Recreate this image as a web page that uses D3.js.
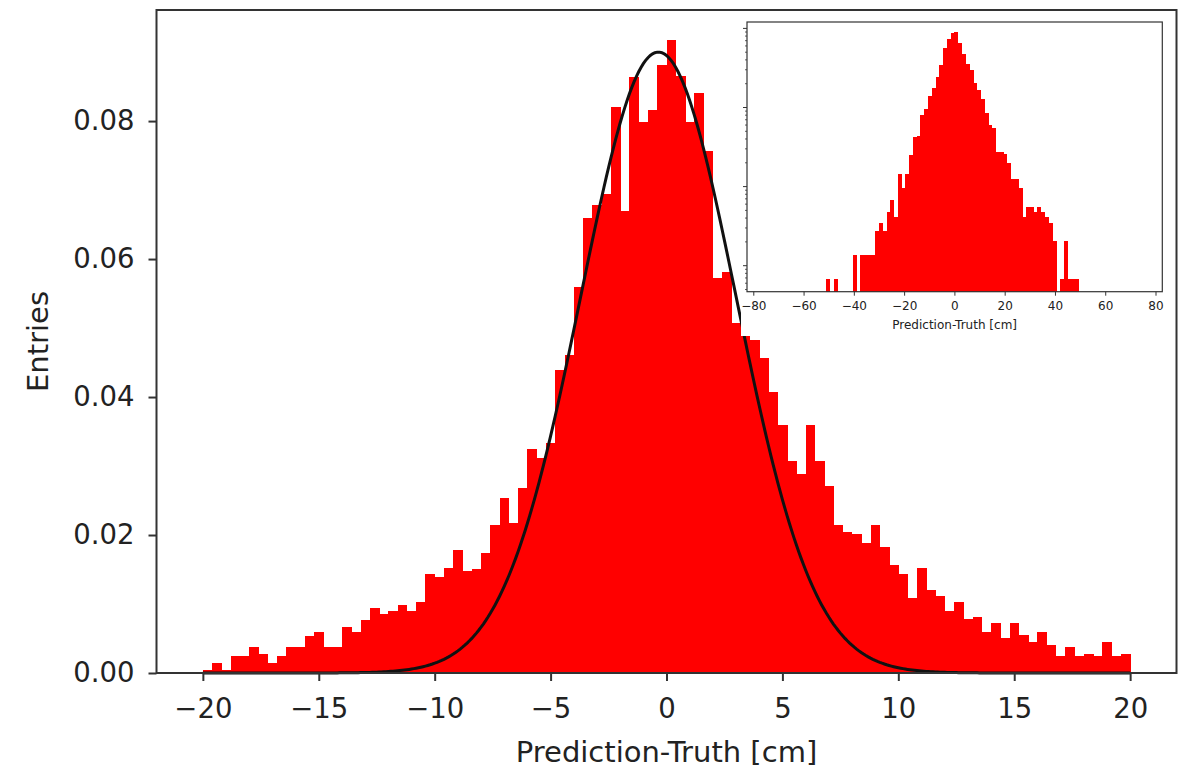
<!DOCTYPE html>
<html>
<head>
<meta charset="utf-8">
<script src="https://cdn.jsdelivr.net/npm/d3@7"></script>
<style>
  body { margin: 0; background: #fff; }
  text { font-family: "DejaVu Sans", sans-serif; fill: #222; }
</style>
</head>
<body>
<div id="chart"></div>
<script>
// main histogram: 100 bins of 0.4 cm from -20 to 20 (normalised)
const binStart = -20, binWidth = 0.4;
const entries = [
  0.0005, 0.0015, 0.0005, 0.0024, 0.0024, 0.0037, 0.0028, 0.0015, 0.0024, 0.0037,
  0.0037, 0.0054, 0.0060, 0.0037, 0.0037, 0.0067, 0.0059, 0.0077, 0.0094, 0.0086,
  0.0090, 0.0099, 0.0090, 0.0103, 0.0143, 0.0139, 0.0152, 0.0178, 0.0148, 0.0151,
  0.0174, 0.0214, 0.0254, 0.0218, 0.0268, 0.0324, 0.0312, 0.0334, 0.0439, 0.0461,
  0.0559, 0.0660, 0.0679, 0.0695, 0.0820, 0.0669, 0.0864, 0.0799, 0.0816, 0.0882,
  0.0917, 0.0865, 0.0799, 0.0841, 0.0757, 0.0573, 0.0581, 0.0507, 0.0500, 0.0483,
  0.0457, 0.0408, 0.0360, 0.0307, 0.0289, 0.0360, 0.0307, 0.0271, 0.0214, 0.0205,
  0.0201, 0.0188, 0.0214, 0.0183, 0.0156, 0.0143, 0.0108, 0.0152, 0.0121, 0.0112,
  0.0090, 0.0103, 0.0078, 0.0081, 0.0059, 0.0072, 0.0051, 0.0072, 0.0055, 0.0045,
  0.0059, 0.0041, 0.0024, 0.0037, 0.0024, 0.0027, 0.0024, 0.0045, 0.0024, 0.0027
];

// gaussian fit drawn on top
const fitMean = -0.35, fitSigma = 3.35, fitPeak = 0.090;

const xTicks = [-20, -15, -10, -5, 0, 5, 10, 15, 20];
const yTicks = [0, 0.02, 0.04, 0.06, 0.08];

// inset: 100 bins of 1.5 cm from -75 to 75, log scale
const insetBinStart = -75, insetBinWidth = 1.5;
const insetCounts = [
  0, 0, 0, 0, 0, 0, 0, 0, 0, 0,
  0, 0, 0, 0, 0, 0, 1, 0, 1, 0,
  0, 0, 0, 2, 0, 2, 2, 2, 2, 4,
  5, 4, 7, 10, 6, 21, 14, 21, 37, 62,
  63, 117, 138, 204, 255, 351, 502, 832, 1072, 1264,
  1301, 944, 692, 513, 434, 295, 243, 185, 126, 88,
  80, 40, 40, 38, 29, 18, 18, 14, 6, 8,
  8, 7, 8, 7, 6, 5, 3, 0, 1, 3,
  1, 1, 1, 0, 0, 0, 0, 0, 0, 0,
  0, 0, 0, 0, 0, 0, 0, 0, 0, 0
];
const insetNorm = 6.85e-5; // 1 / (entries * bin width)
const insetXTicks = [-80, -60, -40, -20, 0, 20, 40, 60, 80];

const width = 1184, height = 770;
const mLeft = 156.5, mRight = 1176.5, mTop = 10, mBottom = 673;

const svg = d3.select("#chart").append("svg")
  .attr("width", width)
  .attr("height", height);

const x = d3.scaleLinear().domain([-22, 22]).range([mLeft, mRight]);
const y = d3.scaleLinear().domain([0, 0.0961]).range([mBottom, mTop]);

// bars
svg.append("g")
  .attr("shape-rendering", "crispEdges")
  .selectAll("rect")
  .data(entries)
  .enter()
  .append("rect")
  .attr("x", (d, i) => x(binStart + i * binWidth))
  .attr("width", (d, i) => x(binStart + (i + 1) * binWidth) - x(binStart + i * binWidth) + 0.5)
  .attr("y", d => y(d))
  .attr("height", d => y(0) - y(d))
  .attr("fill", "#ff0000");

// fit curve
const fitX = d3.range(-20, 20.001, 0.1);
const line = d3.line()
  .x(d => x(d))
  .y(d => y(fitPeak * Math.exp(-0.5 * Math.pow((d - fitMean) / fitSigma, 2))));
svg.append("path")
  .datum(fitX)
  .attr("d", line)
  .attr("fill", "none")
  .attr("stroke", "#111")
  .attr("stroke-width", 3);

// axes
const xAxis = svg.append("g")
  .attr("transform", `translate(0,${mBottom})`)
  .call(d3.axisBottom(x).tickValues(xTicks).tickFormat(d3.format("d")).tickSize(8).tickPadding(17));
const yAxis = svg.append("g")
  .attr("transform", `translate(${mLeft},0)`)
  .call(d3.axisLeft(y).tickValues(yTicks).tickFormat(d3.format(".2f")).tickSize(8).tickPadding(14));
[xAxis, yAxis].forEach(a => {
  a.select(".domain").remove();
  a.selectAll("line").attr("stroke", "#333").attr("stroke-width", 2);
  a.selectAll("text").style("font-size", "27.5px").attr("fill", "#222");
});

svg.append("text")
  .attr("x", (mLeft + mRight) / 2)
  .attr("y", 762)
  .attr("text-anchor", "middle")
  .style("font-size", "29px")
  .text("Prediction-Truth [cm]");

svg.append("text")
  .attr("transform", `translate(48,${(mTop + mBottom) / 2}) rotate(-90)`)
  .attr("text-anchor", "middle")
  .style("font-size", "29px")
  .text("Entries");

// inset
const inset = svg.append("g");
inset.append("rect")
  .attr("x", 741).attr("y", mTop)
  .attr("width", mRight - 741).attr("height", 336 - mTop)
  .attr("fill", "#fff");

const il = 747, ir = 1162.3, it = 22, ib = 291.7;
const ix = d3.scaleLinear().domain([-82.5, 82.7]).range([il, ir]);
const iy = d3.scaleLog().domain([4.69e-5, 0.1205]).range([ib, it]);

inset.append("g")
  .attr("shape-rendering", "crispEdges")
  .selectAll("rect")
  .data(insetCounts.map((c, k) => ({ c, k })).filter(d => d.c > 0))
  .enter()
  .append("rect")
  .attr("x", d => ix(insetBinStart + d.k * insetBinWidth))
  .attr("width", d => ix(insetBinStart + (d.k + 1) * insetBinWidth) - ix(insetBinStart + d.k * insetBinWidth) + 0.3)
  .attr("y", d => iy(d.c * insetNorm))
  .attr("height", d => ib - iy(d.c * insetNorm))
  .attr("fill", "#ff0000");

inset.append("rect")
  .attr("x", il).attr("y", it)
  .attr("width", ir - il).attr("height", ib - it)
  .attr("fill", "none")
  .attr("stroke", "#333")
  .attr("stroke-width", 1.2);

const ixAxis = inset.append("g")
  .attr("transform", `translate(0,${ib})`)
  .call(d3.axisBottom(ix).tickValues(insetXTicks).tickFormat(d3.format("d")).tickSize(4).tickPadding(6));
ixAxis.select(".domain").remove();
ixAxis.selectAll("line").attr("stroke", "#333");
ixAxis.selectAll("text").style("font-size", "12px").attr("fill", "#222");

const majors = [1e-4, 1e-3, 1e-2, 1e-1];
const minors = iy.ticks().filter(v => majors.indexOf(v) < 0 && v >= iy.domain()[0]);
inset.append("g")
  .selectAll("line")
  .data(minors)
  .enter()
  .append("line")
  .attr("x1", il - 2).attr("x2", il)
  .attr("y1", d => iy(d)).attr("y2", d => iy(d))
  .attr("stroke", "#333").attr("stroke-width", 0.8);
inset.append("g")
  .selectAll("line")
  .data(majors)
  .enter()
  .append("line")
  .attr("x1", il - 4).attr("x2", il)
  .attr("y1", d => iy(d)).attr("y2", d => iy(d))
  .attr("stroke", "#333").attr("stroke-width", 1);

inset.append("text")
  .attr("x", (il + ir) / 2)
  .attr("y", 329)
  .attr("text-anchor", "middle")
  .style("font-size", "12px")
  .text("Prediction-Truth [cm]");

// frame on top
svg.append("rect")
  .attr("x", mLeft).attr("y", mTop)
  .attr("width", mRight - mLeft).attr("height", mBottom - mTop)
  .attr("fill", "none")
  .attr("stroke", "#333")
  .attr("stroke-width", 2);
</script>
</body>
</html>
